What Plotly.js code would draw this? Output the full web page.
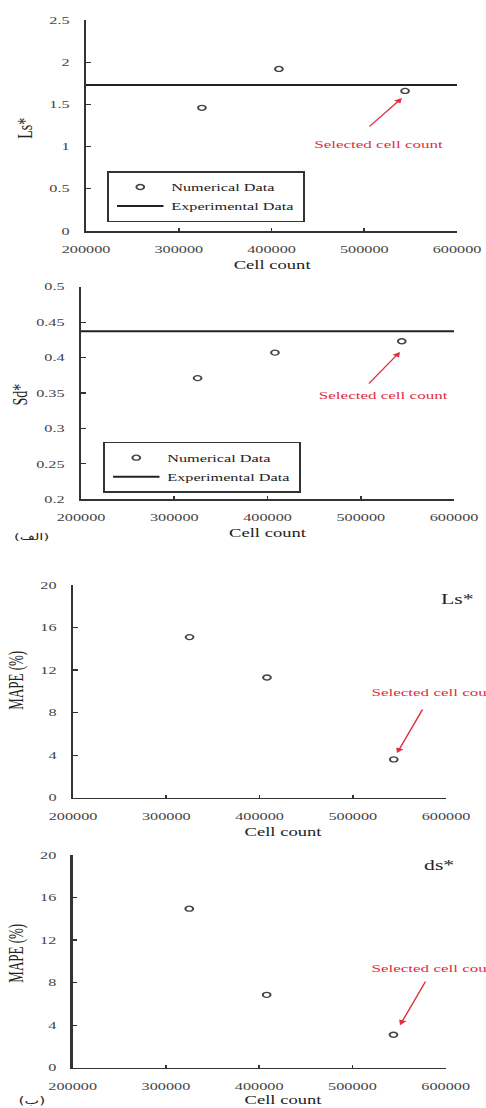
<!DOCTYPE html>
<html>
<head>
<meta charset="utf-8">
<script src="https://cdn.plot.ly/plotly-3.0.1.min.js"></script>
<style>
  html, body { margin: 0; padding: 0; background: #fff; overflow: hidden; }
  #chart { width: 314px; height: 1108px; transform: scaleX(1.5478); transform-origin: 0 0; }
</style>
</head>
<body>
<div id="chart"></div>
<script>
// ---- data ----
const cellCount = [325000, 408000, 544000];
const lsNumerical = [1.46, 1.92, 1.66];
const lsExperimental = 1.73;
const sdNumerical = [0.371, 0.407, 0.423];
const sdExperimental = 0.437;
const mapeLs = [15.1, 11.3, 3.6];
const mapeDs = [14.95, 6.85, 3.1];
const xTickVals = [200000, 300000, 400000, 500000, 600000];
const xRange = [200000, 600000];
const selectedIdx = 2;

const FONT = 'Liberation Serif, Times New Roman, DejaVu Sans, serif';
const AR_FONT = 'DejaVu Sans, sans-serif';
const RED = '#e0303f';
const W = 314, H = 1108;

function xAxis(domain, anchor) {
  return {
    domain: domain, anchor: anchor, range: xRange, tickvals: xTickVals, tickformat: 'd',
    showline: true, linecolor: '#333', linewidth: 1.5, mirror: false,
    ticks: 'inside', ticklen: 3, tickwidth: 1.2, tickcolor: '#333',
    showgrid: false, zeroline: false, ticklabelstandoff: 8,
    tickfont: {family: FONT, size: 10.5, color: '#444'}
  };
}
function yAxis(domain, anchor, range, dtick) {
  return {
    domain: domain, anchor: anchor, range: range, dtick: dtick, tick0: range[0],
    showline: true, linecolor: '#333', linewidth: 1.5, mirror: false,
    ticks: 'inside', ticklen: 3, tickwidth: 1.2, tickcolor: '#333',
    showgrid: false, zeroline: false, ticklabelstandoff: 7,
    tickfont: {family: FONT, size: 10.5, color: '#444'}
  };
}

const marker = {symbol: 'circle-open', size: 5, color: '#444', line: {width: 1.3, color: '#444'}};
const expLine = {color: '#222', width: 2};

const traces = [
  {x: cellCount, y: lsNumerical, mode: 'markers', marker: marker, name: 'Numerical Data',
   xaxis: 'x', yaxis: 'y', legend: 'legend'},
  {x: xRange, y: [lsExperimental, lsExperimental], mode: 'lines', line: expLine, name: 'Experimental Data',
   xaxis: 'x', yaxis: 'y', legend: 'legend'},
  {x: cellCount, y: sdNumerical, mode: 'markers', marker: marker, name: 'Numerical Data',
   xaxis: 'x2', yaxis: 'y2', legend: 'legend2'},
  {x: xRange, y: [sdExperimental, sdExperimental], mode: 'lines', line: expLine, name: 'Experimental Data',
   xaxis: 'x2', yaxis: 'y2', legend: 'legend2'},
  {x: cellCount, y: mapeLs, mode: 'markers', marker: marker, name: 'MAPE Ls*',
   xaxis: 'x3', yaxis: 'y3', showlegend: false},
  {x: cellCount, y: mapeDs, mode: 'markers', marker: marker, name: 'MAPE ds*',
   xaxis: 'x4', yaxis: 'y4', showlegend: false}
];

function px(v) { return v / 486; }
function py(v) { return 1 - v / H; }

const legendStyle = (x, y) => ({
  x: x, y: y, xanchor: 'left', yanchor: 'top', bgcolor: '#fff',
  bordercolor: '#333', borderwidth: 1.5, tracegroupgap: 0, itemwidth: 30,
  font: {family: FONT, size: 10.5, color: '#222'}
});

function txt(x, y, text, size, extra) {
  return Object.assign({xref: 'paper', yref: 'paper', x: x, y: y, text: text, showarrow: false,
    xanchor: 'center', yanchor: 'middle',
    font: {family: FONT, size: size, color: '#222'}}, extra || {});
}

const annotations = [
  // axis titles
  txt(px(272), py(265), 'Cell count', 12),
  txt(px(267), py(533), 'Cell count', 12),
  txt(px(283), py(832), 'Cell count', 12),
  txt(px(283), py(1100), 'Cell count', 12),
  txt(px(26), py(128), 'Ls*', 14, {textangle: -90}),
  txt(px(21), py(395), 'Sd*', 14, {textangle: -90}),
  txt(px(15), py(680), 'MAPE (%)', 13, {textangle: -90}),
  txt(px(15), py(953), 'MAPE (%)', 13, {textangle: -90}),
  // panel tags
  txt(px(31), py(536), '(الف)', 9.5, {font: {family: AR_FONT, size: 9.5, color: '#222'}}),
  txt(px(48), py(1100), '(ب)', 10, {xanchor: 'right', font: {family: AR_FONT, size: 10, color: '#222'}}),
  txt(px(457), py(599), 'Ls*', 14),
  txt(px(439), py(865), 'ds*', 14),
  // "Selected cell count" labels
  {xref: 'x', yref: 'y', x: 514800, y: 1.03, text: 'Selected cell count', showarrow: false,
   xanchor: 'center', yanchor: 'middle', font: {family: FONT, size: 11, color: RED}},
  {xref: 'x2', yref: 'y2', x: 523900, y: 0.347, text: 'Selected cell count', showarrow: false,
   xanchor: 'center', yanchor: 'middle', font: {family: FONT, size: 11, color: RED}},
  {xref: 'x3', yref: 'y3', x: 516400, y: 9.97, xanchor: 'left', yanchor: 'middle', text: 'Selected cell count', showarrow: false,
   font: {family: FONT, size: 11, color: RED}},
  {xref: 'x4', yref: 'y4', x: 516700, y: 9.4, xanchor: 'left', yanchor: 'middle', text: 'Selected cell count', showarrow: false,
   font: {family: FONT, size: 11, color: RED}},
  // arrows toward the selected point
  {xref: 'x', yref: 'y', x: cellCount[selectedIdx] - 3500, y: lsNumerical[selectedIdx] - 0.085, ax: -22, ay: 30,
   text: '', showarrow: true, arrowhead: 2, arrowsize: 1, arrowwidth: 1, arrowcolor: RED},
  {xref: 'x2', yref: 'y2', x: cellCount[selectedIdx] - 2000, y: sdNumerical[selectedIdx] - 0.015, ax: -21, ay: 33,
   text: '', showarrow: true, arrowhead: 2, arrowsize: 1, arrowwidth: 1, arrowcolor: RED},
  {xref: 'x3', yref: 'y3', x: cellCount[selectedIdx] + 3500, y: mapeLs[selectedIdx] + 0.6, ax: 17, ay: -45,
   text: '', showarrow: true, arrowhead: 2, arrowsize: 1, arrowwidth: 1, arrowcolor: RED},
  {xref: 'x4', yref: 'y4', x: cellCount[selectedIdx] + 7000, y: mapeDs[selectedIdx] + 0.9, ax: 17, ay: -45,
   text: '', showarrow: true, arrowhead: 2, arrowsize: 1, arrowwidth: 1, arrowcolor: RED}
];

const layout = {
  width: W, height: H,
  margin: {l: 0, r: 0, t: 0, b: 0},
  paper_bgcolor: '#fff', plot_bgcolor: 'rgba(0,0,0,0)',
  font: {family: FONT, color: '#222'},
  showlegend: true,
  xaxis: xAxis([px(86), px(457)], 'y'),
  yaxis: yAxis([py(231), py(20)], 'x', [0, 2.5], 0.5),
  xaxis2: xAxis([px(81), px(454)], 'y2'),
  yaxis2: yAxis([py(499.3), py(286.7)], 'x2', [0.2, 0.5], 0.05),
  xaxis3: xAxis([px(73), px(446)], 'y3'),
  yaxis3: yAxis([py(797.7), py(585)], 'x3', [0, 20], 4),
  xaxis4: xAxis([px(72.7), px(445.7)], 'y4'),
  yaxis4: yAxis([py(1067.7), py(855)], 'x4', [0, 20], 4),
  legend: legendStyle(px(107), py(171)),
  legend2: legendStyle(px(103), py(441.7)),
  annotations: annotations
};

Plotly.newPlot('chart', traces, layout, {staticPlot: true, displayModeBar: false});
</script>
</body>
</html>
